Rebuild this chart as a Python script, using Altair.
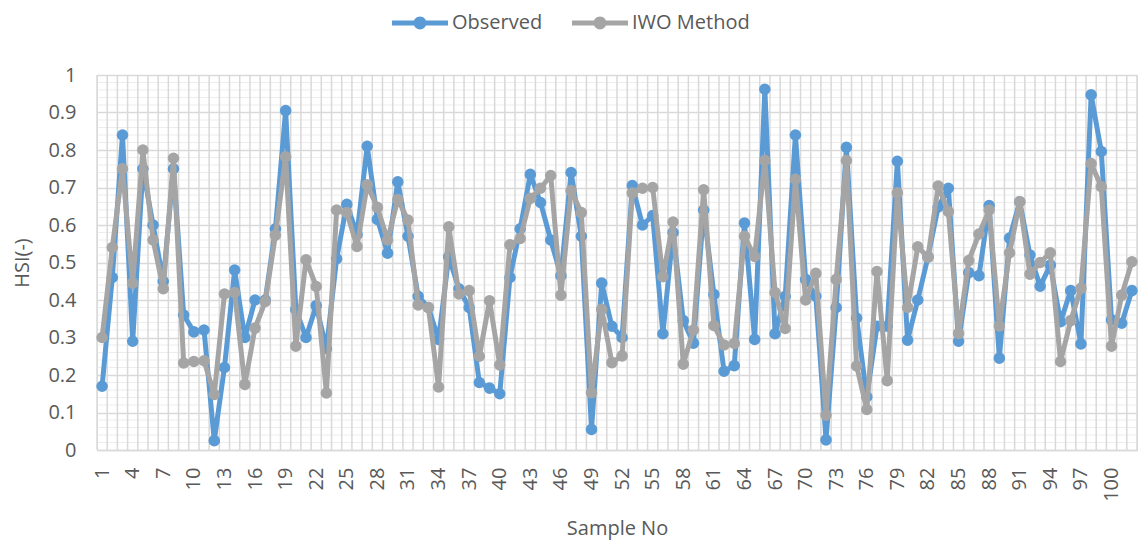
import altair as alt
import pandas as pd

# ---- data ----
samples = list(range(1, 103))

observed = [
    0.17, 0.46, 0.84, 0.29, 0.75, 0.60, 0.45, 0.75, 0.36, 0.315,
    0.32, 0.025, 0.22, 0.48, 0.30, 0.40, 0.40, 0.59, 0.905, 0.375,
    0.30, 0.385, 0.27, 0.51, 0.655, 0.575, 0.81, 0.615, 0.525, 0.715,
    0.57, 0.41, 0.38, 0.295, 0.515, 0.43, 0.38, 0.18, 0.165, 0.15,
    0.46, 0.59, 0.735, 0.66, 0.56, 0.465, 0.74, 0.57, 0.055, 0.445,
    0.33, 0.30, 0.705, 0.60, 0.625, 0.31, 0.58, 0.345, 0.285, 0.64,
    0.415, 0.21, 0.225, 0.605, 0.295, 0.962, 0.31, 0.41, 0.84, 0.455,
    0.41, 0.027, 0.38, 0.807, 0.352, 0.142, 0.33, 0.33, 0.77, 0.293,
    0.40, 0.515, 0.648, 0.698, 0.29, 0.473, 0.465, 0.652, 0.245, 0.565,
    0.662, 0.52, 0.437, 0.493, 0.342, 0.425, 0.283, 0.947, 0.796, 0.347,
    0.338, 0.425,
]

iwo = [
    0.30, 0.54, 0.75, 0.445, 0.80, 0.56, 0.43, 0.778, 0.232, 0.236,
    0.238, 0.148, 0.416, 0.42, 0.175, 0.325, 0.396, 0.573, 0.782, 0.277,
    0.507, 0.436, 0.152, 0.64, 0.633, 0.543, 0.707, 0.647, 0.56, 0.668,
    0.613, 0.387, 0.38, 0.168, 0.595, 0.416, 0.425, 0.25, 0.398, 0.227,
    0.547, 0.564, 0.671, 0.698, 0.732, 0.413, 0.692, 0.633, 0.153, 0.375,
    0.233, 0.251, 0.685, 0.698, 0.70, 0.462, 0.608, 0.229, 0.32, 0.694,
    0.332, 0.28, 0.284, 0.57, 0.516, 0.772, 0.42, 0.324, 0.722, 0.40,
    0.471, 0.093, 0.455, 0.772, 0.224, 0.108, 0.476, 0.185, 0.686, 0.38,
    0.542, 0.514, 0.704, 0.636, 0.311, 0.505, 0.576, 0.64, 0.331, 0.526,
    0.662, 0.469, 0.50, 0.526, 0.236, 0.345, 0.431, 0.764, 0.702, 0.277,
    0.413, 0.502,
]

series_names = ["Observed", "IWO Method"]
series_colors = ["#5B9BD5", "#A5A5A5"]
x_tick_labels = list(range(1, 101, 3))
y_ticks = [round(i * 0.1, 1) for i in range(11)]
y_minor = [round(i * 0.02, 2) for i in range(51) if i % 5 != 0]

# ---- tables ----
df = pd.DataFrame({
    "Sample": samples * 2,
    "HSI": observed + iwo,
    "Series": [series_names[0]] * len(samples) + [series_names[1]] * len(samples),
})
vgrid = pd.DataFrame({"b": [s - 0.5 for s in samples] + [samples[-1] + 0.5]})
hgrid = pd.DataFrame({"v": y_minor})

FONT = "Open Sans"
TXT = "#595959"

xscale = alt.Scale(domain=[samples[0] - 0.5, samples[-1] + 0.5], nice=False, zero=False)
yscale = alt.Scale(domain=[0, 1], nice=False)
cscale = alt.Scale(domain=series_names, range=series_colors)

x_axis = alt.Axis(
    values=x_tick_labels, title="Sample No", grid=False, ticks=False,
    domain=True, domainColor="#D9D9D9", domainWidth=1.5,
    labelAngle=270, labelFontSize=20, labelColor=TXT, labelFont=FONT,
    labelPadding=17, labelFlush=False, labelOverlap=False,
    titleFontSize=20, titleFontWeight="normal", titleColor=TXT, titleFont=FONT,
    titleY=78, titleBaseline="middle",
)
y_axis = alt.Axis(
    values=y_ticks, format=".1~f", title="HSI(-)", grid=True,
    gridColor="#D9D9D9", gridWidth=1.5, ticks=False, domain=False,
    labelFontSize=20, labelColor=TXT, labelFont=FONT, labelPadding=21,
    titleFontSize=20, titleFontWeight="normal", titleColor=TXT, titleFont=FONT,
    titleX=-75, titleY=187.5, titleAngle=270, titleAlign="center",
    titleBaseline="middle",
)

legend_symbol = (
    "M-1,-0.085L1,-0.085L1,0.085L-1,0.085Z"
    "M0.23,0A0.23,0.23,0,1,1,-0.23,0A0.23,0.23,0,1,1,0.23,0Z"
)
legend = alt.Legend(
    title=None, orient="none", legendX=295, legendY=-80,
    direction="horizontal", symbolType=legend_symbol,
    symbolSize=3136, symbolStrokeWidth=0, labelFontSize=20,
    labelColor=TXT, labelFont=FONT, labelOffset=4,
    columnPadding=29, padding=0,
)

minor = alt.Chart(hgrid).mark_rule(color="#EDEDED", strokeWidth=1).encode(
    y=alt.Y("v:Q", scale=yscale, axis=y_axis)
)
vert = alt.Chart(vgrid).mark_rule(color="#D9D9D9", strokeWidth=1.5).encode(
    x=alt.X("b:Q", scale=xscale, axis=x_axis)
)

layers = [minor, vert]
for name, col in zip(series_names, series_colors):
    base = alt.Chart(df).transform_filter(alt.datum.Series == name).encode(
        x=alt.X("Sample:Q", scale=xscale, axis=x_axis),
        y=alt.Y("HSI:Q", scale=yscale, axis=y_axis),
    )
    line = base.mark_line(
        strokeWidth=5, strokeJoin="round", strokeCap="round", color=col
    )
    pts = base.mark_point(filled=True, size=135, opacity=1, shape="circle").encode(
        color=alt.Color("Series:N", scale=cscale, legend=legend)
    )
    layers += [line, pts]

chart = alt.layer(*layers).properties(
    width=1040, height=375,
    autosize=alt.AutoSizeParams(type="none"),
    padding={"left": 97, "top": 75, "right": 2, "bottom": 91},
).configure_view(stroke=None).configure(font=FONT, background="white")

chart.save("out.html", embed_options={"renderer": "svg", "actions": False})
